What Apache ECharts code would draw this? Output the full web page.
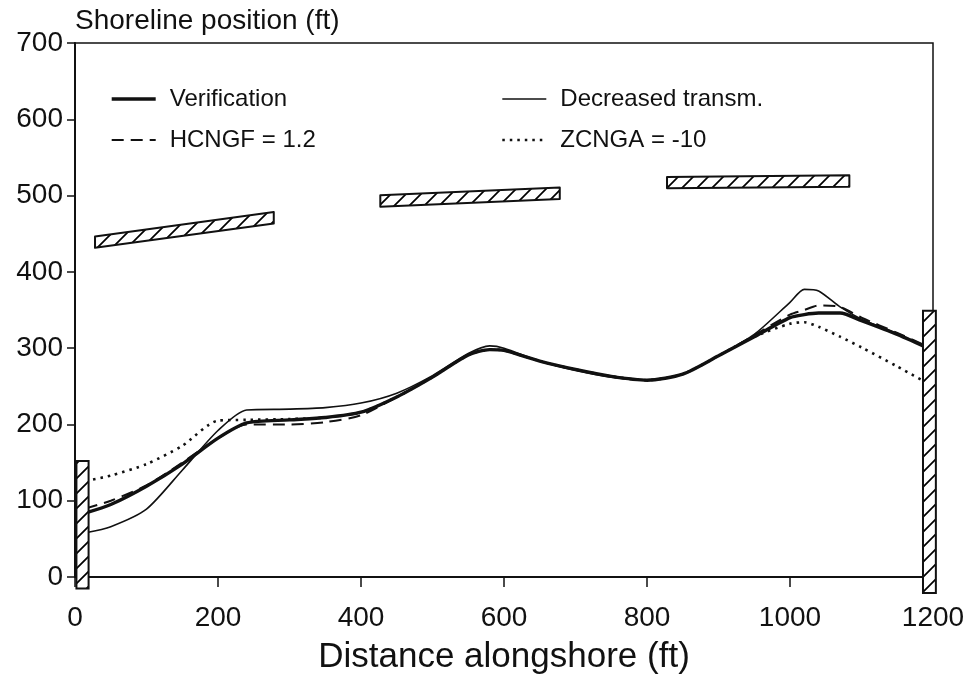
<!DOCTYPE html>
<html><head><meta charset="utf-8">
<script src="https://cdn.jsdelivr.net/npm/echarts@6/dist/echarts.min.js"></script>
<style>html,body{margin:0;padding:0;background:#fff}#c{width:968px;height:674px}</style>
</head><body><div id="c"></div>
<script>
// ---- data ----
const distance = [15, 50, 100, 150, 200, 240, 300, 350, 400, 450, 500, 550, 580, 600, 650, 700, 750, 800, 850, 900, 950, 1000, 1020, 1040, 1070, 1100, 1150, 1200];
const verification = [84, 95, 119, 148, 182, 202, 206, 209, 216, 236, 262, 291, 298, 297, 283, 272, 263, 258, 266, 290, 315, 340, 344, 346, 346, 336, 318, 297];
const decreasedTransm = [58, 66, 89, 140, 192, 219, 220, 222, 228, 241, 264, 293, 303, 300, 283, 271, 262, 258, 266, 290, 318, 360, 377, 375, 354, 338, 319, 298];
const hcngf = [90, 100, 120, 150, 182, 200, 200, 203, 212, 236, 262, 291, 298, 297, 283, 272, 263, 258, 266, 290, 317, 344, 350, 356, 354, 340, 320, 299];
const zcnga = [126, 133, 148, 172, 205, 206, 207, 209, 216, 236, 262, 291, 298, 297, 283, 272, 263, 258, 266, 290, 315, 332, 334, 328, 315, 301, 276, 250];
const xTicks = [0, 200, 400, 600, 800, 1000, 1200];
const yTicks = [0, 100, 200, 300, 400, 500, 600, 700];
// detached breakwaters: start/end alongshore, centre shoreline offset, thickness (ft)
const breakwaterStart = [28, 427, 828];
const breakwaterEnd = [278, 678, 1083];
const breakwaterStartY = [439, 493, 517];
const breakwaterEndY = [471, 503, 519];
const breakwaterThickness = [15, 15, 15];
// groins: x0, x1, y0, y1 (ft)
const groinX0 = [2, 1186];
const groinX1 = [19, 1204];
const groinY0 = [-15, -21];
const groinY1 = [152, 349];

// ---- build ----
function pairs(ys){ return distance.map((x,i)=>[x, ys[i]]); }
function hatchPattern(){
  const s = 15, c = document.createElement('canvas');
  c.width = s; c.height = s;
  const g = c.getContext('2d');
  g.fillStyle = '#fff'; g.fillRect(0,0,s,s);
  g.strokeStyle = '#000'; g.lineWidth = 1.7;
  g.beginPath();
  g.moveTo(-1, s+1); g.lineTo(s+1, -1);
  g.moveTo(-2, 2); g.lineTo(2, -2);
  g.moveTo(s-2, s+2); g.lineTo(s+2, s-2);
  g.stroke();
  return c;
}
const pat = {image: hatchPattern(), repeat: 'repeat'};
const bwData = breakwaterStart.map((x0,i)=>[x0, breakwaterStartY[i], breakwaterEnd[i], breakwaterEndY[i], breakwaterThickness[i]]);
const groinData = groinX0.map((x0,i)=>[x0, groinY0[i], groinX1[i], groinY1[i]]);

const font = 'Liberation Sans, Arial, sans-serif';
const legendText = {fontFamily: font, fontSize: 24, color: '#111', padding: [0,0,0,9]};
const styles = {
  verification: {color: '#111', width: 3.4},
  decreased: {color: '#111', width: 1.6},
  hcngf: {color: '#111', width: 2, type: [12, 7]},
  zcnga: {color: '#111', width: 2.6, type: [2.5, 5]}
};
const chart = echarts.init(document.getElementById('c'), null, {renderer:'canvas'});
chart.setOption({
  animation: false,
  backgroundColor: '#fff',
  color: ['#111', '#111', '#111', '#111'],
  title: {text: 'Shoreline position (ft)', left: 70, top: 2,
    textStyle: {fontFamily: font, fontSize: 28, fontWeight: 'normal', color: '#111'}},
  grid: {left: 75, right: 35, top: 43, bottom: 97, show: true, borderColor: '#111', borderWidth: 1.5,
    backgroundColor: 'transparent', containLabel: false, outerBoundsMode: 'none'},
  legend: [
    {left: 105, top: 82, orient: 'vertical', itemGap: 17, itemWidth: 44, itemHeight: 14,
     itemStyle: {opacity: 0},
     data: [{name: 'Verification', lineStyle: styles.verification}, {name: 'HCNGF = 1.2', lineStyle: styles.hcngf}],
     textStyle: legendText},
    {left: 496, top: 82, orient: 'vertical', itemGap: 17, itemWidth: 44, itemHeight: 14,
     itemStyle: {opacity: 0},
     data: [{name: 'Decreased transm.', lineStyle: styles.decreased}, {name: 'ZCNGA = -10', lineStyle: styles.zcnga}],
     textStyle: legendText}
  ],
  xAxis: {type: 'value', min: 0, max: 1200, interval: 200,
    name: 'Distance alongshore (ft)', nameLocation: 'middle', nameGap: 63,
    nameTextStyle: {fontFamily: font, fontSize: 35, color: '#111'},
    axisLine: {lineStyle: {color: '#111', width: 2}},
    axisTick: {length: 10, inside: false, lineStyle: {color: '#111', width: 1.5}},
    axisLabel: {fontFamily: font, fontSize: 28, color: '#111', margin: 27,
      formatter: v => xTicks.includes(v) ? String(v) : ''},
    splitLine: {show: false}},
  yAxis: {type: 'value', min: 0, max: 700, interval: 100,
    axisLine: {show: true, lineStyle: {color: '#111', width: 2}},
    axisTick: {show: true, length: 8, lineStyle: {color: '#111', width: 1.5}},
    axisLabel: {fontFamily: font, fontSize: 28, color: '#111', margin: 12,
      formatter: v => yTicks.includes(v) ? String(v) : ''},
    splitLine: {show: false}},
  series: [
    {name: 'ZCNGA = -10', type: 'line', data: pairs(zcnga), smooth: 0.25, symbol: 'none',
     lineStyle: styles.zcnga, z: 2},
    {name: 'HCNGF = 1.2', type: 'line', data: pairs(hcngf), smooth: 0.25, symbol: 'none',
     lineStyle: styles.hcngf, z: 3},
    {name: 'Decreased transm.', type: 'line', data: pairs(decreasedTransm), smooth: 0.25, symbol: 'none',
     lineStyle: styles.decreased, z: 4},
    {name: 'Verification', type: 'line', data: pairs(verification), smooth: 0.25, symbol: 'none',
     lineStyle: styles.verification, z: 5},
    {type: 'custom', name: 'breakwaters', clip: false, silent: true, z: 6,
     data: bwData, encode: {x: [0, 2], y: [1, 3]},
     renderItem: (params, api) => {
       const x0 = api.value(0), y0 = api.value(1), x1 = api.value(2), y1 = api.value(3), t = api.value(4)/2;
       const pts = [api.coord([x0, y0+t]), api.coord([x1, y1+t]), api.coord([x1, y1-t]), api.coord([x0, y0-t])];
       return {type: 'polygon', shape: {points: pts},
         style: {fill: pat, stroke: '#111', lineWidth: 2, lineJoin: 'round'}};
     }},
    {type: 'custom', name: 'groins', clip: false, silent: true, z: 6,
     data: groinData, encode: {x: [0, 2], y: [1, 3]},
     renderItem: (params, api) => {
       const a = api.coord([api.value(0), api.value(1)]), b = api.coord([api.value(2), api.value(3)]);
       return {type: 'rect', shape: {x: Math.min(a[0],b[0]), y: Math.min(a[1],b[1]), width: Math.abs(b[0]-a[0]), height: Math.abs(b[1]-a[1])},
         style: {fill: pat, stroke: '#111', lineWidth: 2}};
     }}
  ]
});
</script></body></html>
